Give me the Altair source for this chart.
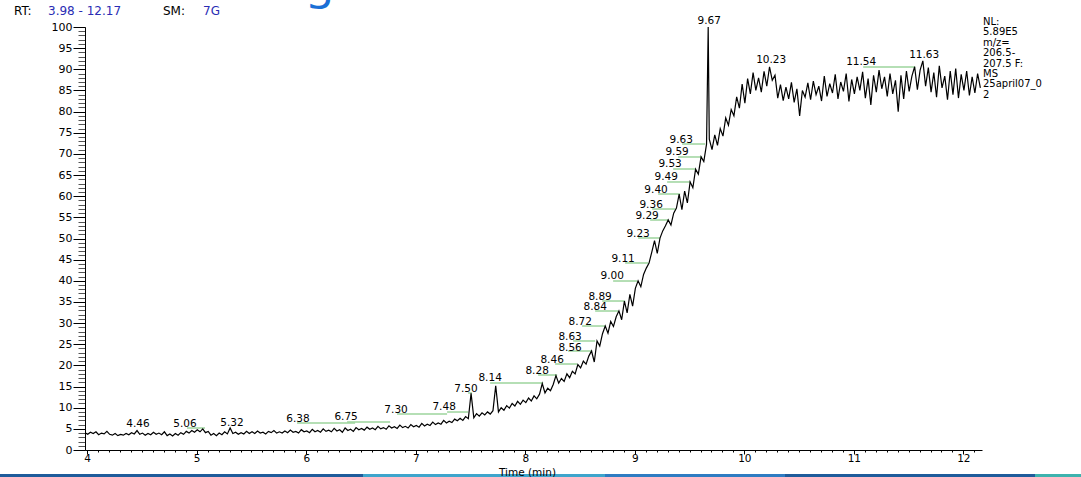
import altair as alt
import pandas as pd

# ---------------------------------------------------------------------------
# Chromatogram: relative abundance (%) sampled on a regular scan grid (min)
# ---------------------------------------------------------------------------
SCAN_START = 3.98
SCAN_STEP = 0.025

# 3.98 - 5.48 min
abund_a = [
    4.1, 3.7, 4.2, 3.9, 4.3, 3.6, 4.0, 3.8, 4.4, 3.7,
    3.5, 3.9, 3.4, 3.7, 3.5, 3.9, 3.6, 4.1, 3.8, 4.6,
    3.7, 4.0, 3.5, 3.9, 3.6, 4.2, 3.7, 4.0, 3.6, 4.3,
    3.4, 3.8, 3.3, 3.9, 3.5, 4.1, 3.7, 4.4, 4.0, 4.6,
    4.2, 4.8, 4.3, 5.0, 4.1, 4.4, 3.5, 3.9, 3.4, 4.0,
    3.6, 4.3, 3.8, 5.2, 3.9, 4.2, 3.7, 4.1, 3.8, 4.4,
    3.9,
]
# 5.505 - 6.48 min
abund_b = [
    4.3, 3.9, 4.5, 4.0, 4.2, 3.8, 4.4, 4.1, 4.6, 4.0,
    4.3, 4.0, 4.5, 4.1, 4.7, 4.2, 4.4, 4.0, 4.8, 4.3,
    4.5, 4.1, 4.9, 4.3, 4.6, 4.2, 5.0, 4.4, 4.7, 4.3,
    5.1, 4.5, 4.8, 4.2, 5.2, 4.6, 4.9, 4.4, 5.3, 4.8,
]
# 6.505 - 7.48 min
abund_c = [
    5.1, 4.7, 5.4, 4.9, 5.2, 4.8, 5.6, 5.0, 5.3, 4.9,
    5.7, 5.2, 5.5, 5.1, 5.9, 5.3, 5.6, 5.2, 6.0, 5.5,
    5.8, 5.4, 6.3, 5.7, 6.1, 5.8, 6.6, 6.0, 6.4, 6.1,
    7.0, 6.4, 6.8, 6.5, 7.3, 6.9, 7.5, 7.0, 7.9, 7.4,
]
# 7.505 - 8.48 min
abund_d = [
    13.4, 7.6, 8.6, 8.0, 8.8, 8.3, 9.0, 8.5, 9.3, 15.2,
    9.0, 10.0, 9.4, 10.5, 9.9, 11.0, 10.4, 11.5, 10.8, 11.8,
    11.2, 12.3, 11.6, 12.8, 12.1, 13.2, 15.7, 13.5, 14.6, 14.0,
    15.5, 17.6, 15.8, 16.9, 16.2, 18.0, 17.1, 18.6, 18.0, 20.2,
]
# 8.505 - 9.655 min
abund_e = [
    19.4, 21.0, 20.3, 22.2, 23.4, 20.8, 25.8, 24.6, 27.5, 29.3,
    27.6, 30.4, 29.2, 31.5, 32.9, 30.8, 35.2, 32.4, 36.8, 34.0,
    38.2, 40.0, 38.6, 41.5, 43.0, 44.2, 46.8, 49.5, 46.5, 50.1,
    51.8, 53.0, 54.4, 53.2, 56.0, 57.2, 60.5, 56.8, 61.2, 58.4,
    63.4, 62.0, 66.4, 65.2, 69.3, 68.2, 72.3,
]
# 9.68 - 10.48 min
abund_f = [
    73.5, 71.0, 74.5, 72.0, 76.0, 74.2, 78.5, 76.8, 80.5, 79.0,
    83.5, 80.8, 86.5, 82.0, 87.8, 84.2, 89.2, 85.0, 88.0, 84.6,
    89.5, 86.0, 90.6, 87.4, 88.6, 83.2, 86.4, 82.6, 85.8, 83.0,
    86.9, 82.2, 85.4,
]
# 10.505 - 12.155 min
abund_g = [
    79.0, 85.0, 83.4, 86.8, 82.8, 87.2, 84.0, 86.0, 82.5, 88.4,
    83.6, 86.6, 84.4, 88.8, 83.0, 87.0, 84.8, 89.0, 82.4, 87.6,
    84.2, 88.2, 85.0, 89.4, 83.2, 87.8, 81.6, 88.6, 84.6, 89.8,
    85.4, 88.2, 83.6, 89.0, 84.2, 87.4, 80.0, 88.6, 83.0, 89.6,
    84.8, 88.4, 90.6, 85.2, 89.8, 92.0, 86.0, 90.4, 84.6, 89.2,
    83.4, 90.8, 85.6, 88.4, 82.8, 89.6, 84.0, 90.2, 83.2, 88.8,
    85.0, 89.6, 83.8, 88.2, 84.4, 89.0, 85.6,
]

# base peak apex between two scans
apex_time = [9.67]
apex_abund = [100.0]

abundance = abund_a + abund_b + abund_c + abund_d + abund_e + abund_f + abund_g
scan_time = [round(SCAN_START + SCAN_STEP * i, 3) for i in range(len(abundance))]
trace = pd.DataFrame({"t": scan_time + apex_time, "v": abundance + apex_abund})
trace = trace.sort_values("t").reset_index(drop=True)

# Peak retention-time labels: text and anchor (time, abundance)
peak_label = ["4.46", "5.06", "5.32", "6.38", "6.75", "7.30", "7.48", "7.50",
              "8.14", "8.28", "8.46", "8.56", "8.63", "8.72", "8.84", "8.89",
              "9.00", "9.11", "9.23", "9.29", "9.36", "9.40", "9.49", "9.53",
              "9.59", "9.63", "9.67", "10.23", "11.54", "11.63"]
peak_label_t = [4.464, 4.893, 5.322, 5.925, 6.364, 6.820, 7.259, 7.459,
                7.679, 8.108, 8.245, 8.409, 8.409, 8.501, 8.638, 8.683,
                8.793, 8.893, 9.030, 9.112, 9.149, 9.194, 9.286, 9.322,
                9.386, 9.423, 9.679, 10.245, 11.067, 11.642]
peak_label_v = [6.15, 6.15, 6.38, 7.33, 7.80, 9.46, 10.17, 14.42,
                17.02, 18.68, 21.28, 24.11, 26.71, 30.26, 33.81, 36.17,
                41.13, 45.15, 51.06, 55.32, 57.92, 61.47, 64.54, 67.61,
                70.45, 73.29, 101.4, 92.2, 91.73, 93.38]

# Leader lines from label to apex: start time, end time, abundance
leader_t1 = [4.911, 5.916, 6.373, 6.829, 7.286, 7.478, 7.679, 8.117, 8.272,
             8.391, 8.437, 8.519, 8.638, 8.702, 8.802, 8.912, 9.030, 9.140,
             9.158, 9.213, 9.295, 9.350, 9.395, 9.432, 11.085]
leader_t2 = [5.076, 6.446, 6.766, 7.286, 7.478, 7.514, 8.163, 8.291, 8.473,
             8.610, 8.638, 8.729, 8.848, 8.912, 9.021, 9.122, 9.231, 9.304,
             9.368, 9.414, 9.505, 9.550, 9.614, 9.642, 11.560]
leader_v = [5.20, 6.38, 6.62, 8.51, 8.98, 13.48, 15.84, 17.73, 20.33,
            23.40, 25.77, 29.31, 32.86, 35.22, 39.95, 44.21, 50.12, 54.37,
            56.97, 60.52, 63.36, 66.43, 69.27, 72.34, 90.54]

labels = pd.DataFrame({"label": peak_label, "t": peak_label_t, "v": peak_label_v})
leaders = pd.DataFrame({"t1": leader_t1, "t2": leader_t2, "v": leader_v})

X_TICKS = [4, 5, 6, 7, 8, 9, 10, 11, 12]
X_MINOR = [round(4 + 0.1 * i, 1) for i in range(82)]
Y_TICKS = list(range(0, 101, 5))
Y_MINOR = list(range(0, 101))

INFO_LINES = ["NL:", "5.89E5", "m/z=", "206.5-", "207.5 F:", "MS", "25april07_0", "2"]

FONT = "DejaVu Sans"
BLUE_TEXT = "#2a2db4"

x_scale = alt.Scale(domain=[3.98, 12.17], nice=False, zero=False)
y_scale = alt.Scale(domain=[0, 100], nice=False, zero=False)

line = alt.Chart(trace).mark_line(color="black", strokeWidth=1.2).encode(
    x=alt.X("t:Q", scale=x_scale,
            axis=alt.Axis(values=X_TICKS, format="d", orient="bottom", grid=False,
                          tickSize=4, labelPadding=-1, labelFlush=False,
                          labelFontSize=10.5, title="Time (min)", titleFontSize=10.5,
                          titleFontWeight="normal", titleX=442, titleY=25,
                          titleBaseline="alphabetic", titleAlign="center", zindex=1)),
    y=alt.Y("v:Q", scale=y_scale,
            axis=alt.Axis(values=Y_TICKS, orient="left", grid=False, tickSize=12,
                          labelPadding=1, labelFontSize=11, title=None)),
)

minor = alt.Chart(trace).mark_line(opacity=0).encode(
    x=alt.X("t:Q", scale=x_scale,
            axis=alt.Axis(values=X_MINOR, orient="bottom", grid=False, tickSize=2,
                          labels=False, domain=False, title=None)),
    y=alt.Y("v:Q", scale=y_scale,
            axis=alt.Axis(values=Y_MINOR, orient="left", grid=False, tickSize=7,
                          labels=False, domain=False, title=None, tickColor="#555555")),
)

leader_rules = alt.Chart(leaders).mark_rule(color="#9dd49d", strokeWidth=1.5).encode(
    x=alt.X("t1:Q", scale=x_scale, axis=None),
    x2="t2:Q",
    y=alt.Y("v:Q", scale=y_scale, axis=None),
)

label_text = alt.Chart(labels).mark_text(
    font=FONT, fontSize=10.5, color="black", align="center", baseline="middle"
).encode(
    x=alt.X("t:Q", scale=x_scale, axis=None),
    y=alt.Y("v:Q", scale=y_scale, axis=None),
    text="label:N",
)

one = alt.Data(values=[{}])


def note(text, x, y, color="black", **kw):
    return alt.Chart(one).mark_text(
        text=text, color=color, font=kw.pop("font", FONT), fontSize=kw.pop("fontSize", 11),
        align=kw.pop("align", "left"), baseline=kw.pop("baseline", "middle"), **kw
    ).encode(x=alt.value(x), y=alt.value(y))


header = [
    note("RT:", -71, -16, fontSize=12),
    note("3.98 - 12.17", -37, -16, BLUE_TEXT, fontSize=12),
    note("SM:", 78, -16, fontSize=12),
    note("7G", 118, -16, BLUE_TEXT, fontSize=12),
]

slide_title = note("g", 235, -29, "#1a6fd6", font="Noto Sans", fontSize=46,
                   align="center", baseline="alphabetic")

info = note(INFO_LINES, 898, -10, baseline="top", fontSize=10, lineHeight=10.4)


def band(x0, x1, color):
    return alt.Chart(one).mark_rect(color=color).encode(
        x=alt.value(x0), x2=alt.value(x1), y=alt.value(447), y2=alt.value(450)
    )


footer = [
    band(-85, 278, "#1f5c9b"),
    band(278, 520, "#3ea5cc"),
    band(520, 700, "#2f7cc2"),
    band(700, 950, "#1f5c9b"),
    band(950, 996, "#3db3ae"),
]

chart = alt.layer(
    *footer, minor, leader_rules, line, label_text, *header, slide_title, info
).resolve_axis(
    x="independent", y="independent"
).properties(
    width=897,
    height=423,
    padding={"left": 85, "top": 27, "right": 99, "bottom": 27},
    autosize=alt.AutoSizeParams(type="none"),
    background="white",
).configure_view(
    stroke=None
).configure_axis(
    labelFont=FONT, titleFont=FONT, labelColor="black", titleColor="black",
    tickColor="black", domainColor="black", domainWidth=1, tickWidth=1,
)

chart.save("out.html", embed_options={"renderer": "svg", "actions": False})
